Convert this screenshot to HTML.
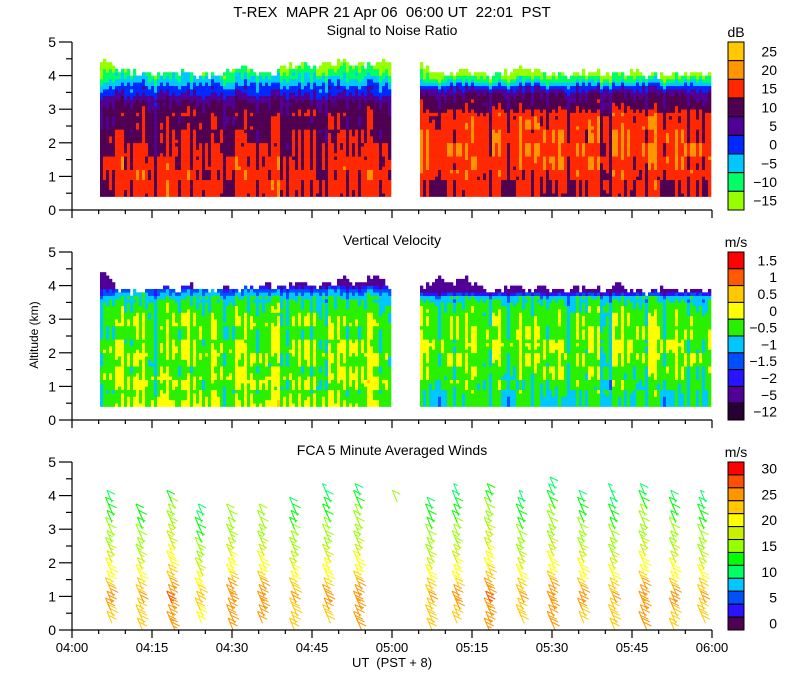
<!DOCTYPE html>
<html><head><meta charset="utf-8"><style>
html,body{margin:0;padding:0;background:#fff;}
svg{display:block;font-family:"Liberation Sans",sans-serif;}
</style></head><body>
<svg id="chart" width="800" height="700" viewBox="0 0 800 700" xmlns="http://www.w3.org/2000/svg">
<rect width="800" height="700" fill="#fff"/>
<text x="392" y="17" font-size="15" text-anchor="middle" xml:space="preserve">T-REX  MAPR 21 Apr 06  06:00 UT  22:01  PST</text>
<text x="392" y="35" font-size="14" text-anchor="middle">Signal to Noise Ratio</text>
<text x="392" y="245" font-size="14" text-anchor="middle">Vertical Velocity</text>
<text x="392" y="455" font-size="14" text-anchor="middle">FCA 5 Minute Averaged Winds</text>
<text x="0" y="0" font-size="12" text-anchor="middle" transform="translate(38,335) rotate(-90)">Altitude (km)</text>
<text x="392" y="667" font-size="13" text-anchor="middle" xml:space="preserve">UT  (PST + 8)</text>
<g id="marks"></g>
<g id="axes"></g>
</svg>
<script>
// ---- data ----
const timeTicks=["04:00","04:15","04:30","04:45","05:00","05:15","05:30","05:45","06:00"];
const altTicks=[0,1,2,3,4,5];
const snrLabels=["25","20","15","10","5","0","\u22125","\u221210","\u221215"];
const snrBins=[25,20,15,10,5,0,-5,-10,-15];
const snrColors=["#ffc800","#ff9600","#ff2800","#500050","#500096","#0028ff","#00c8ff","#00ff64","#96ff00"];
const velLabels=["1.5","1","0.5","0","\u22120.5","\u22121","\u22121.5","\u22122","\u22125","\u221212"];
const velBins=[1.5,1,0.5,0,-0.5,-1,-1.5,-2,-5,-12];
const velColors=["#ff0000","#ff5a00","#ffc800","#ffff00","#28f000","#00c8ff","#0050ff","#2814ff","#500096","#280032"];
const windLabels=["30","25","20","15","10","5","0"];
const windColors=["#ff0000","#ff5000","#ff9600","#ffc800","#ffff00","#c8f000","#96ff00","#00ff00","#00ff64","#00c8ff","#0050ff","#2814ff","#500050"];
// radar segments (minutes after 04:00)
const segStart=[5.25,65.25];
const segEnd=[59.6,119.6];
// SNR profile (dB) at altitudes 0.4..4.4 step 0.2
const snrProfile1=[16,17,17,17,17,16.5,16,15.5,15,14.5,14,13.5,13.5,12,10,5,2,-3,-7,-11,-13];
const snrProfile2=[15,16,16,17,18,18.5,19,19,19,19,18.5,18,17,13,12,10,3,-6,-12,-14,-15];
// echo top (km) across each segment
const snrTop1=[4.4,4.2,4.1,4.0,4.0,4.1,4.0,4.0,4.0,4.2,4.1,4.0,4.2,4.3,4.2,4.3,4.4,4.3,4.3,4.4];
const snrTop2=[4.3,4.0,4.0,4.1,4.0,4.0,4.1,4.2,4.0,4.0,4.0,4.1,4.0,4.0,4.1,4.0,4.0,4.0,4.0,4.0];
const velTop1=[4.4,3.9,3.8,3.8,3.9,3.8,4.0,3.8,3.9,3.8,3.9,4.0,3.9,4.1,3.9,4.0,4.2,4.0,4.3,3.9];
const velTop2=[3.9,4.2,4.0,4.2,3.9,3.8,4.0,3.8,3.9,3.8,3.9,3.9,3.8,4.0,3.8,3.8,3.9,3.8,3.8,3.8];
// column / row perturbations (hand-read texture)
const colOff=[-6,2,-1,3,-7,1,0,4,-4,2,-6,3,1,-3,4,-5,0,2,-8,3,1,-2,5,-4,2,-1];
const rowOff=[1,-2,0,3,-1,2,-3,0,1,-2,2,0,-1,3,-2,1];
// vertical velocity base (m/s) at altitudes 0.4..4.4 step 0.2
const velProfile1=[0.05,-0.05,-0.15,-0.05,0.05,-0.15,-0.15,-0.05,0.05,-0.05,-0.15,-0.15,-0.05,-0.15,-0.25,-0.35,-0.6,-1.2,-2.5,-4,-4];
const velProfile2=[-0.5,-0.5,-0.4,-0.35,-0.25,-0.15,-0.15,-0.05,-0.05,0.05,-0.05,-0.05,-0.15,-0.15,-0.25,-0.4,-0.7,-2.5,-4,-4,-4];
// winds
const windTimes=[7.5,13.2,19,24.3,30.2,36,42,48.2,54,61,67.5,72.5,78.5,84.5,90.3,96,101.8,107.5,113.2,118.5];
const windTop=[3.8,3.5,3.9,3.5,3.5,3.5,3.6,4.1,4.0,3.9,3.6,4.0,4.0,3.8,4.3,3.8,4.0,4.1,3.9,3.9];
const windBottom=[0.2,0.0,0.0,0.2,0.0,0.2,0.0,0.2,0.0,3.8,0.0,0.2,0.0,0.2,0.0,0.2,0.0,0.0,0.0,0.2];
const windSpeedProfile=[23,24,25,24,23,21,20,19,18,17,16,15,15,14,13,13,12,11,10,9,10];
const windColOff=[0,-1,2,-2,1,1,-1,0,1,3,-1,0,2,-1,1,0,-1,1,0,-1];
</script>
<script>
const NS="http://www.w3.org/2000/svg";
const marks=document.getElementById('marks'),axes=document.getElementById('axes');
const X0=72,X1=712;
const xs=m=>X0+m/120*(X1-X0);
const panels=[{top:42,bot:210,name:'snr'},{top:252,bot:420,name:'velocity'},{top:462,bot:630,name:'winds'}];
const ys=(p,km)=>p.bot-km/5*(p.bot-p.top);
function mk(tag,attrs,parent){const e=document.createElementNS(NS,tag);for(const k in attrs)e.setAttribute(k,attrs[k]);parent.appendChild(e);return e;}
function interp(arr,f){const i=f*(arr.length-1);const a=Math.floor(i),b=Math.min(arr.length-1,a+1);return arr[a]+(arr[b]-arr[a])*(i-a);}
function prof(arr,alt){return interp(arr,Math.max(0,Math.min(1,(alt-0.4)/4.0)));}
function binIdx(bins,v){for(let i=0;i<bins.length;i++){if(v>=bins[i])return i;}return bins.length-1;}

function drawField(p,profiles,tops,bins,colors,scaleOff,label){
  const g=mk('g',{},marks);
  
  
  const dt=0.5625,dz=0.1;
  for(let s=0;s<2;s++){
    const n=Math.round((segEnd[s]-segStart[s])/dt);
    for(let c=0;c<n;c++){
      const t=segStart[s]+c*dt;
      const top=interp(tops[s],c/(n-1))+0.12*colOff[(c*3+s)%colOff.length]/8;
      const x=xs(t),w=xs(t+dt)-x+0.3;
      const co=colOff[(c+s*7)%colOff.length]*0.5+colOff[((c>>2)+s*3)%colOff.length]*0.4;
      for(let alt=0.4;alt<top-0.001;alt+=dz){
        const ri=Math.floor(alt*10/4)+((c>>3)%5);
        const v=prof(profiles[s],alt)+scaleOff*(co+rowOff[ri%rowOff.length]*0.7);
        mk('rect',{x:x.toFixed(2),y:ys(p,alt+dz).toFixed(2),width:w.toFixed(2),height:(ys(p,alt)-ys(p,alt+dz)+0.3).toFixed(2),fill:colors[binIdx(bins,v)]},g);
      }
    }
  }
}
drawField(panels[0],[snrProfile1,snrProfile2],[snrTop1,snrTop2],snrBins,snrColors,0.8,'snr');
drawField(panels[1],[velProfile1,velProfile2],[velTop1,velTop2],velBins,velColors,0.09,'velocity');

// wind barbs
(function(){
  const p=panels[2];
  const g=mk('g',{},marks);
  
  
  windTimes.forEach((t,i)=>{
    for(let alt=windBottom[i];alt<=windTop[i]+0.001;alt+=0.2){
      const sp=prof(windSpeedProfile,Math.max(0.4,alt))+windColOff[i];
      const bi=Math.max(0,Math.min(12,Math.round(sp/2.5)));
      const col=windColors[12-bi];
      const x=xs(t)+((i+Math.round(alt*5))%3-1)*1.5,y=ys(p,alt);
      const ex=x-5,ey=y-12;
      const b=mk('g',{stroke:col,'stroke-width':1,fill:'none'},g);
      
      
      mk('line',{x1:x,y1:y,x2:ex,y2:ey},b);
      let nfull=Math.floor(sp/10),half=(sp%10)>=5;
      let k=0;
      for(;k<nfull;k++){const bx=ex+1.6*k,by=ey+4*k;mk('line',{x1:bx,y1:by,x2:bx+8,y2:by+4},b);}
      if(half){const bx=ex+1.6*k,by=ey+4*k;mk('line',{x1:bx,y1:by,x2:bx+4,y2:by+2},b);}
    }
  });
})();

// axes
panels.forEach((p,pi)=>{
  const g=mk('g',{stroke:'#000','stroke-width':1.2},axes);
  
  
  mk('line',{x1:X0,y1:p.top,x2:X0,y2:p.bot},g);
  mk('line',{x1:X0,y1:p.bot,x2:X1,y2:p.bot},g);
  for(let k=0;k<=10;k++){const y=ys(p,k/2);mk('line',{x1:X0-(k%2?6:13),y1:y,x2:X0,y2:y},g);}
  for(let m=0;m<=120;m+=5){const x=xs(m);mk('line',{x1:x,y1:p.bot,x2:x,y2:p.bot+(m%15?4:8)},g);}
  altTicks.forEach(a=>{const t=mk('text',{x:56,y:ys(p,a)+5,'font-size':14,'text-anchor':'end',stroke:'none',fill:'#000'},axes);t.textContent=a;
    
    });
});
timeTicks.forEach((lb,i)=>{const t=mk('text',{x:xs(i*15),y:652,'font-size':13,'text-anchor':'middle'},axes);t.textContent=lb;
  
  });

// colorbars
function colorbar(p,colors,labels,unit,labelStep,name){
  const g=mk('g',{},axes);
  
  
  const n=colors.length,h=(p.bot-p.top)/n;
  colors.forEach((c,i)=>mk('rect',{x:728,y:p.top+i*h,width:16,height:h,fill:c,stroke:'#000','stroke-width':1},g));
  labels.forEach((lb,j)=>{const i=j*labelStep;const t=mk('text',{x:777,y:p.top+(i+0.5)*h+5,'font-size':14,'text-anchor':'end'},g);t.textContent=lb;
    
    });
  const u=mk('text',{x:736,y:p.top-5,'font-size':14,'text-anchor':'middle'},g);u.textContent=unit;
  
  
}
colorbar(panels[0],snrColors,snrLabels,'dB',1,'snr');
colorbar(panels[1],velColors,velLabels,'m/s',1,'velocity');
colorbar(panels[2],windColors,windLabels,'m/s',2,'winds');
</script>
</body></html>
